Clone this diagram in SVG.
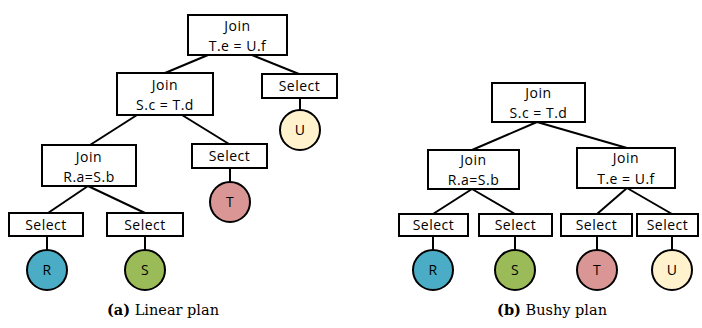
<svg xmlns="http://www.w3.org/2000/svg" width="702" height="328" viewBox="0 0 702 328">
  <style>
    .box { fill: #fff; stroke: #000; stroke-width: 2; }
    .edge { stroke: #000; stroke-width: 2; fill: none; }
    .rel { stroke: #000; stroke-width: 2; }
    .lbl { font-family: "Open Sans", "Liberation Sans", sans-serif; font-size: 14px; letter-spacing: 0.5px; fill: #000; text-anchor: middle; }
    .cap { font-family: "DejaVu Serif", "Liberation Serif", serif; font-size: 14.5px; fill: #000; text-anchor: middle; }
    .capb { font-weight: bold; }
    .r { fill: #4bacc6; }
    .s { fill: #9bbb59; }
    .t { fill: #da9694; }
    .u { fill: #fff2cc; }
  </style>

  <!-- connectors -->
  <g id="edges">
    <!-- linear plan -->
    <line class="edge" x1="208" y1="55" x2="165" y2="73"/>
    <line class="edge" x1="252" y1="55" x2="299" y2="74"/>
    <line class="edge" x1="300" y1="98" x2="300" y2="110"/>
    <line class="edge" x1="137" y1="115" x2="90" y2="145"/>
    <line class="edge" x1="182" y1="115" x2="229" y2="144"/>
    <line class="edge" x1="230" y1="168" x2="230" y2="182"/>
    <line class="edge" x1="88" y1="186" x2="48" y2="213"/>
    <line class="edge" x1="88" y1="186" x2="145" y2="213"/>
    <line class="edge" x1="47" y1="236" x2="47" y2="250"/>
    <line class="edge" x1="145" y1="236" x2="145" y2="250"/>
    <!-- bushy plan -->
    <line class="edge" x1="537" y1="122" x2="472" y2="150"/>
    <line class="edge" x1="537" y1="122" x2="627" y2="148"/>
    <line class="edge" x1="472" y1="189" x2="433" y2="214"/>
    <line class="edge" x1="472" y1="189" x2="515" y2="214"/>
    <line class="edge" x1="627" y1="188" x2="597" y2="214"/>
    <line class="edge" x1="627" y1="188" x2="672" y2="214"/>
    <line class="edge" x1="433" y1="236" x2="433" y2="250"/>
    <line class="edge" x1="515" y1="236" x2="515" y2="250"/>
    <line class="edge" x1="597" y1="236" x2="597" y2="250"/>
    <line class="edge" x1="672" y1="236" x2="672" y2="250"/>
  </g>

  <!-- linear plan nodes -->
  <g id="a-join-tu">
    <rect class="box" x="188" y="15" width="99" height="40"/>
    <text class="lbl" x="237.5" y="31">Join</text>
    <text class="lbl" x="237.5" y="51">T.e = U.f</text>
  </g>
  <g id="a-select-u">
    <rect class="box" x="262" y="74" width="75" height="24"/>
    <text class="lbl" x="299.5" y="91">Select</text>
  </g>
  <g id="a-u">
    <circle class="rel u" cx="300" cy="130" r="20"/>
    <text class="lbl" x="300" y="135">U</text>
  </g>
  <g id="a-join-st">
    <rect class="box" x="117" y="73" width="96" height="42"/>
    <text class="lbl" x="165" y="90">Join</text>
    <text class="lbl" x="165" y="110">S.c = T.d</text>
  </g>
  <g id="a-select-t">
    <rect class="box" x="192" y="144" width="75" height="24"/>
    <text class="lbl" x="229.5" y="161">Select</text>
  </g>
  <g id="a-t">
    <circle class="rel t" cx="230" cy="202" r="20"/>
    <text class="lbl" x="230" y="207">T</text>
  </g>
  <g id="a-join-rs">
    <rect class="box" x="42" y="145" width="94" height="41"/>
    <text class="lbl" x="89" y="162">Join</text>
    <text class="lbl" x="89" y="182">R.a=S.b</text>
  </g>
  <g id="a-select-r">
    <rect class="box" x="9" y="213" width="74" height="23"/>
    <text class="lbl" x="46" y="230">Select</text>
  </g>
  <g id="a-select-s">
    <rect class="box" x="107" y="213" width="76" height="23"/>
    <text class="lbl" x="145" y="230">Select</text>
  </g>
  <g id="a-r">
    <circle class="rel r" cx="47" cy="270" r="20"/>
    <text class="lbl" x="47" y="275">R</text>
  </g>
  <g id="a-s">
    <circle class="rel s" cx="145" cy="270" r="20"/>
    <text class="lbl" x="145" y="275">S</text>
  </g>

  <!-- bushy plan nodes -->
  <g id="b-join-st">
    <rect class="box" x="492" y="83" width="93" height="39"/>
    <text class="lbl" x="538.5" y="98">Join</text>
    <text class="lbl" x="538.5" y="118">S.c = T.d</text>
  </g>
  <g id="b-join-rs">
    <rect class="box" x="428" y="150" width="91" height="39"/>
    <text class="lbl" x="473.5" y="165">Join</text>
    <text class="lbl" x="473.5" y="185">R.a=S.b</text>
  </g>
  <g id="b-join-tu">
    <rect class="box" x="577" y="148" width="98" height="40"/>
    <text class="lbl" x="626" y="163">Join</text>
    <text class="lbl" x="626" y="184">T.e = U.f</text>
  </g>
  <g id="b-select-r">
    <rect class="box" x="399" y="214" width="69" height="22"/>
    <text class="lbl" x="433.5" y="230">Select</text>
  </g>
  <g id="b-select-s">
    <rect class="box" x="479" y="214" width="73" height="22"/>
    <text class="lbl" x="515.5" y="230">Select</text>
  </g>
  <g id="b-select-t">
    <rect class="box" x="561" y="214" width="71" height="22"/>
    <text class="lbl" x="596.5" y="230">Select</text>
  </g>
  <g id="b-select-u">
    <rect class="box" x="637" y="214" width="61" height="22"/>
    <text class="lbl" x="667.5" y="230">Select</text>
  </g>
  <g id="b-r">
    <circle class="rel r" cx="433" cy="270" r="20"/>
    <text class="lbl" x="433" y="275">R</text>
  </g>
  <g id="b-s">
    <circle class="rel s" cx="515" cy="270" r="20"/>
    <text class="lbl" x="515" y="275">S</text>
  </g>
  <g id="b-t">
    <circle class="rel t" cx="597" cy="270" r="20"/>
    <text class="lbl" x="597" y="275">T</text>
  </g>
  <g id="b-u">
    <circle class="rel u" cx="672" cy="270" r="20"/>
    <text class="lbl" x="672" y="275">U</text>
  </g>

  <!-- captions -->
  <text class="cap" x="163" y="315"><tspan class="capb">(a)</tspan> Linear plan</text>
  <text class="cap" x="552" y="315"><tspan class="capb">(b)</tspan> Bushy plan</text>
</svg>
